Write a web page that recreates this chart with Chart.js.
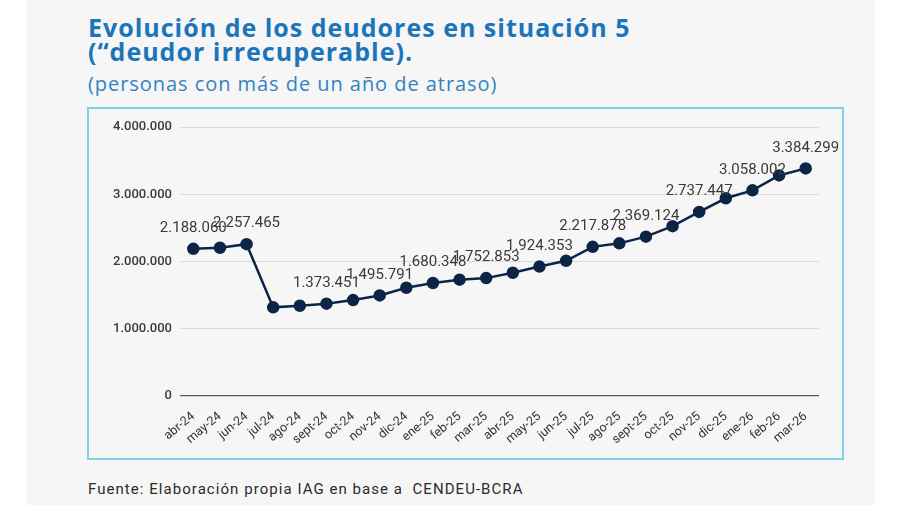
<!DOCTYPE html>
<html lang="es">
<head>
<meta charset="utf-8">
<title>Deudores en situación 5</title>
<script src="https://cdn.jsdelivr.net/npm/chart.js@4.4.1/dist/chart.umd.min.js"></script>
<style>
  html, body { margin: 0; padding: 0; background: #ffffff; }
  body { width: 900px; height: 505px; position: relative; overflow: hidden; }
  #panel { position: absolute; left: 26px; top: 0; width: 849px; height: 505px; background: #f6f6f7; }
  .titulo { position: absolute; left: 88px; color: #1b75bb; font-family: "Open Sans", sans-serif; font-weight: 700; font-size: 25px; line-height: 25px; letter-spacing: 1px; white-space: nowrap; }
  #t1 { top: 15px; }
  #t2 { top: 39px; }
  #sub { position: absolute; left: 88px; top: 74px; color: #3283c2; font-family: "Open Sans", sans-serif; font-size: 20px; line-height: 20px; letter-spacing: 0.95px; white-space: nowrap; }
  #caja { position: absolute; left: 87px; top: 107px; width: 753px; height: 349px; border: 2px solid #80d0e8; }
  #caja canvas { display: block; }
  #fuente { position: absolute; left: 88px; top: 482px; color: #2b2b2b; font-family: Roboto, sans-serif; font-size: 15px; line-height: 15px; letter-spacing: 1.05px; white-space: nowrap; }
</style>
</head>
<body>
<div id="panel"></div>
<div class="titulo" id="t1">Evolución de los deudores en situación 5</div>
<div class="titulo" id="t2">(“deudor irrecuperable).</div>
<div id="sub">(personas con más de un año de atraso)</div>
<div id="caja"><canvas id="grafico" width="753" height="349"></canvas></div>
<div id="fuente">Fuente: Elaboración propia IAG en base a&nbsp; CENDEU-BCRA</div>

<script>
// meses (eje x)
const meses = ['abr-24', 'may-24', 'jun-24', 'jul-24', 'ago-24', 'sept-24', 'oct-24', 'nov-24', 'dic-24',
    'ene-25', 'feb-25', 'mar-25', 'abr-25', 'may-25', 'jun-25', 'jul-25', 'ago-25', 'sept-25', 'oct-25',
    'nov-25', 'dic-25', 'ene-26', 'feb-26', 'mar-26'];

// deudores en situación 5 (los sin etiqueta estimados del gráfico)
const deudores = [2188060, 2205000, 2257465, 1318000, 1342000, 1373451, 1426000, 1495791, 1610000,
    1680348, 1730000, 1752853, 1833000, 1924353, 2010000, 2217878, 2270000, 2369124, 2526000,
    2737447, 2940000, 3058002, 3280000, 3384299];

// meses que llevan etiqueta de valor
const mesesConEtiqueta = ['abr-24', 'jun-24', 'sept-24', 'nov-24', 'ene-25', 'mar-25', 'may-25',
    'jul-25', 'sept-25', 'nov-25', 'ene-26', 'mar-26'];

// marcas del eje y
const marcasY = [0, 1000000, 2000000, 3000000, 4000000];

function formatoMiles(n) {
    return String(Math.round(n)).replace(/\B(?=(\d{3})+(?!\d))/g, '.');
}

const azulOscuro = '#0c2547';

// etiquetas de valor encima de los puntos
const etiquetasValor = {
    id: 'etiquetasValor',
    afterDatasetsDraw(chart) {
        const ctx = chart.ctx;
        const meta = chart.getDatasetMeta(0);
        ctx.save();
        ctx.font = '15px Roboto, sans-serif';
        ctx.fillStyle = '#3a3a3a';
        ctx.textAlign = 'center';
        ctx.textBaseline = 'bottom';
        meta.data.forEach((pt, i) => {
            if (!mesesConEtiqueta.includes(meses[i])) return;
            ctx.fillText(formatoMiles(deudores[i]), pt.x, pt.y - 13);
        });
        ctx.restore();
    }
};

const ctx = document.getElementById('grafico').getContext('2d');
new Chart(ctx, {
    type: 'line',
    data: {
        labels: meses,
        datasets: [{
            label: 'Deudores',
            data: deudores,
            borderColor: azulOscuro,
            backgroundColor: azulOscuro,
            borderWidth: 2.5,
            pointRadius: 5,
            pointHoverRadius: 5,
            tension: 0,
            fill: false
        }]
    },
    options: {
        responsive: false,
        animation: false,
        events: [],
        layout: { padding: { top: 18, right: 23, left: 0, bottom: 0 } },
        plugins: {
            legend: { display: false },
            tooltip: { enabled: false }
        },
        scales: {
            x: {
                offset: true,
                grid: { display: false },
                border: { display: false },
                afterFit: s => { s.height = 62; },
                ticks: {
                    autoSkip: false,
                    minRotation: 40,
                    maxRotation: 40,
                    color: '#333333',
                    padding: 5,
                    font: { family: 'Roboto, sans-serif', size: 12.5 }
                }
            },
            y: {
                min: 0,
                max: 4000000,
                afterFit: s => { s.width = 91; },
                afterBuildTicks: s => { s.ticks = marcasY.map(v => ({ value: v })); },
                border: { display: false },
                grid: {
                    drawTicks: false,
                    color: c => c.tick && c.tick.value === 0 ? '#5a5a5a' : '#dadada',
                    lineWidth: c => c.tick && c.tick.value === 0 ? 1.3 : 1
                },
                ticks: {
                    color: '#3a3a3a',
                    padding: 8,
                    font: { family: 'Roboto, sans-serif', size: 13, weight: '500' },
                    callback: v => formatoMiles(v)
                }
            }
        }
    },
    plugins: [etiquetasValor]
});
</script>
</body>
</html>
